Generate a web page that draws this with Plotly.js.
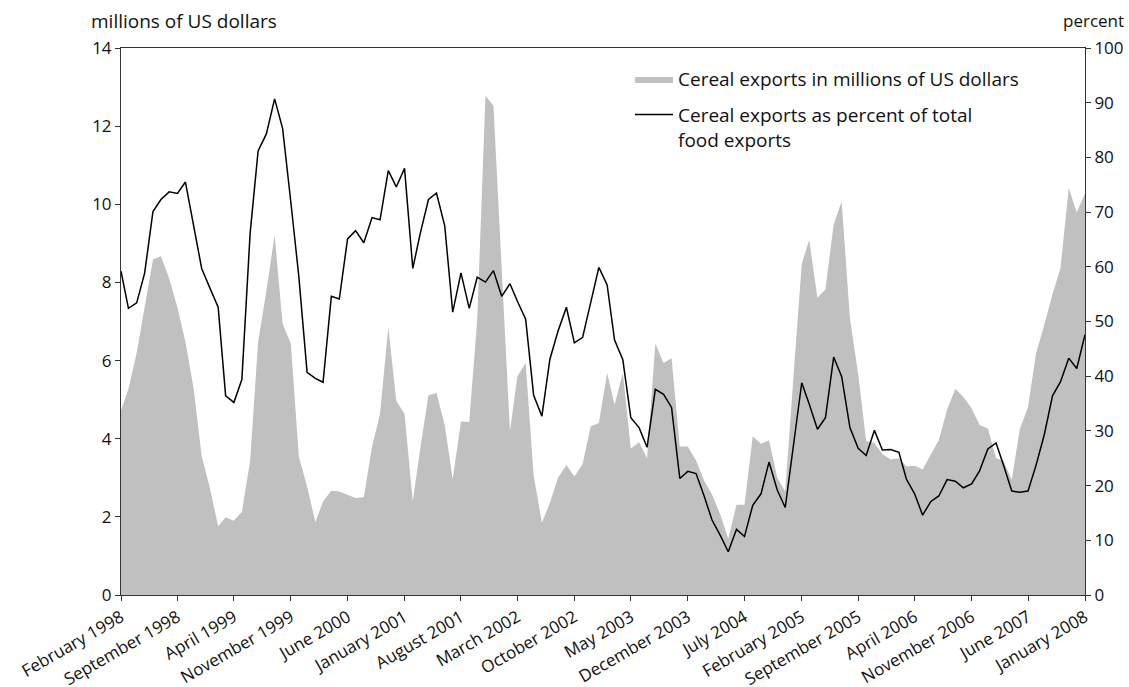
<!DOCTYPE html>
<html>
<head>
<meta charset="utf-8">
<script src="https://cdn.plot.ly/plotly-3.0.1.min.js"></script>
<style>
  html, body { margin: 0; padding: 0; background: #fff; }
  #chart { width: 1129px; height: 687px; }
</style>
</head>
<body>
<div id="chart"></div>
<script>
// Monthly observations, February 1998 to January 2008
const startYear = 1998;
const startMonth = 2;
const monthCount = 120;
const months = [];
for (let i = 0; i < monthCount; i++) {
  const m = startMonth - 1 + i;
  const y = startYear + Math.floor(m / 12);
  const mm = (m % 12) + 1;
  months.push(y + '-' + (mm < 10 ? '0' + mm : mm) + '-01');
}

// Cereal exports, millions of US dollars (left axis)
const cerealExportsUSD = [
  4.72, 5.28, 6.20, 7.41, 8.59, 8.67, 8.10, 7.36, 6.48, 5.28,
  3.56, 2.73, 1.76, 1.99, 1.90, 2.13, 3.43, 6.48, 7.78, 9.21,
  6.94, 6.44, 3.54, 2.78, 1.87, 2.39, 2.67, 2.65, 2.56, 2.48,
  2.50, 3.80, 4.63, 6.85, 4.97, 4.63, 2.39, 3.75, 5.11, 5.17,
  4.35, 2.96, 4.44, 4.43, 7.04, 12.78, 12.52, 8.43, 4.19, 5.60,
  5.94, 3.06, 1.85, 2.36, 3.01, 3.33, 3.03, 3.35, 4.31, 4.40,
  5.69, 4.86, 5.69, 3.75, 3.91, 3.50, 6.44, 5.94, 6.06, 3.80,
  3.80, 3.44, 2.92, 2.57, 2.06, 1.44, 2.31, 2.31, 4.06, 3.87,
  3.96, 3.01, 2.64, 5.60, 8.47, 9.09, 7.61, 7.82, 9.49, 10.07,
  7.08, 5.65, 3.94, 3.89, 3.61, 3.47, 3.50, 3.29, 3.31, 3.21,
  3.61, 3.97, 4.75, 5.28, 5.07, 4.78, 4.35, 4.26, 3.50, 3.43,
  2.95, 4.24, 4.81, 6.18, 6.92, 7.70, 8.37, 10.42, 9.79, 10.28
];

// Cereal exports as percent of total food exports (right axis)
const cerealSharePct = [
  59.2, 52.4, 53.4, 58.9, 70.1, 72.3, 73.7, 73.4, 75.5, 67.5,
  59.7, 56.1, 52.6, 36.4, 35.2, 39.4, 66.1, 81.2, 84.3, 90.7,
  85.3, 71.8, 58.2, 40.7, 39.6, 38.9, 54.6, 54.1, 65.1, 66.6,
  64.4, 69.0, 68.6, 77.6, 74.6, 78.0, 59.7, 66.1, 72.3, 73.5,
  67.5, 51.7, 58.9, 52.4, 58.1, 57.2, 59.3, 54.6, 56.9, 53.7,
  50.4, 36.5, 32.7, 43.1, 48.3, 52.6, 46.1, 47.1, 53.6, 59.9,
  56.7, 46.6, 43.0, 32.4, 30.6, 27.0, 37.6, 36.7, 34.3, 21.3,
  22.6, 22.2, 18.0, 13.7, 10.9, 7.9, 12.0, 10.7, 16.4, 18.5,
  24.3, 19.2, 16.0, 27.4, 38.8, 34.9, 30.3, 32.4, 43.5, 39.9,
  30.6, 26.8, 25.5, 30.1, 26.5, 26.6, 26.1, 21.2, 18.5, 14.6,
  17.1, 18.1, 21.1, 20.8, 19.6, 20.3, 22.7, 26.7, 27.8, 23.7,
  19.0, 18.8, 19.0, 23.7, 29.3, 36.4, 39.0, 43.3, 41.4, 47.6
];

const tickDates = [
  '1998-02-01', '1998-09-01', '1999-04-01', '1999-11-01', '2000-06-01',
  '2001-01-01', '2001-08-01', '2002-03-01', '2002-10-01', '2003-05-01',
  '2003-12-01', '2004-07-01', '2005-02-01', '2005-09-01', '2006-04-01',
  '2006-11-01', '2007-06-01', '2008-01-01'
];
const tickLabels = [
  'February 1998', 'September 1998', 'April 1999', 'November 1999', 'June 2000',
  'January 2001', 'August 2001', 'March 2002', 'October 2002', 'May 2003',
  'December 2003', 'July 2004', 'February 2005', 'September 2005', 'April 2006',
  'November 2006', 'June 2007', 'January 2008'
];

const seriesNames = [
  'Cereal exports in millions of US dollars',
  'Cereal exports as percent of total<br>food exports'
];

const FONT = '"Open Sans", "Noto Sans", sans-serif';
const AXIS = '#333333';

const traces = [
  {
    x: months, y: cerealExportsUSD,
    type: 'scatter', mode: 'lines',
    name: seriesNames[0],
    legendgroup: 'usd',
    fill: 'tozeroy',
    fillcolor: '#c0c0c0',
    line: { width: 0, color: '#c0c0c0' },
    yaxis: 'y',
    hoverinfo: 'x+y'
  },
  {
    x: months, y: cerealSharePct,
    type: 'scatter', mode: 'lines',
    name: seriesNames[1],
    legendgroup: 'pct',
    line: { width: 1.5, color: '#000000' },
    yaxis: 'y2',
    hoverinfo: 'x+y'
  }
];

const layout = {
  width: 1129, height: 687,
  margin: { l: 121, r: 44, t: 48, b: 92 },
  paper_bgcolor: '#ffffff',
  plot_bgcolor: '#ffffff',
  font: { family: FONT, size: 17, color: '#111111' },
  showlegend: true,
  legend: {
    x: 0.528, y: 0.978, xanchor: 'left', yanchor: 'top',
    bgcolor: 'rgba(0,0,0,0)',
    font: { family: FONT, size: 19, color: '#111111' },
    valign: 'top',
    itemwidth: 38,
    traceorder: 'grouped',
    tracegroupgap: 8
  },
  xaxis: {
    type: 'date',
    range: [months[0], months[months.length - 1]],
    tickmode: 'array',
    tickvals: tickDates,
    ticktext: tickLabels,
    tickangle: -30,
    ticks: 'outside', ticklen: 5, tickwidth: 1, tickcolor: AXIS,
    showline: true, linecolor: AXIS, linewidth: 1,
    mirror: true,
    showgrid: false, zeroline: false,
    tickfont: { family: FONT, size: 17, color: '#111111' }
  },
  yaxis: {
    range: [0, 14], dtick: 2, tick0: 0,
    ticks: 'outside', ticklen: 5, tickwidth: 1, tickcolor: AXIS,
    showline: true, linecolor: AXIS, linewidth: 1,
    showgrid: false, zeroline: false,
    tickfont: { family: FONT, size: 17, color: '#111111' }
  },
  yaxis2: {
    range: [0, 100], dtick: 10, tick0: 0,
    overlaying: 'y', side: 'right',
    ticks: 'outside', ticklen: 5, tickwidth: 1, tickcolor: AXIS,
    showline: true, linecolor: AXIS, linewidth: 1,
    showgrid: false, zeroline: false,
    tickfont: { family: FONT, size: 17, color: '#111111' }
  },
  annotations: [
    {
      text: 'millions of US dollars', xref: 'paper', yref: 'paper',
      x: -0.033, y: 1.05, xanchor: 'left', yanchor: 'middle',
      showarrow: false, font: { family: FONT, size: 19, color: '#111111' }
    },
    {
      text: 'percent', xref: 'paper', yref: 'paper',
      x: 1.043, y: 1.05, xanchor: 'right', yanchor: 'middle',
      showarrow: false, font: { family: FONT, size: 17, color: '#111111' }
    }
  ]
};

Plotly.newPlot('chart', traces, layout, { displayModeBar: false, staticPlot: true });
</script>
</body>
</html>
